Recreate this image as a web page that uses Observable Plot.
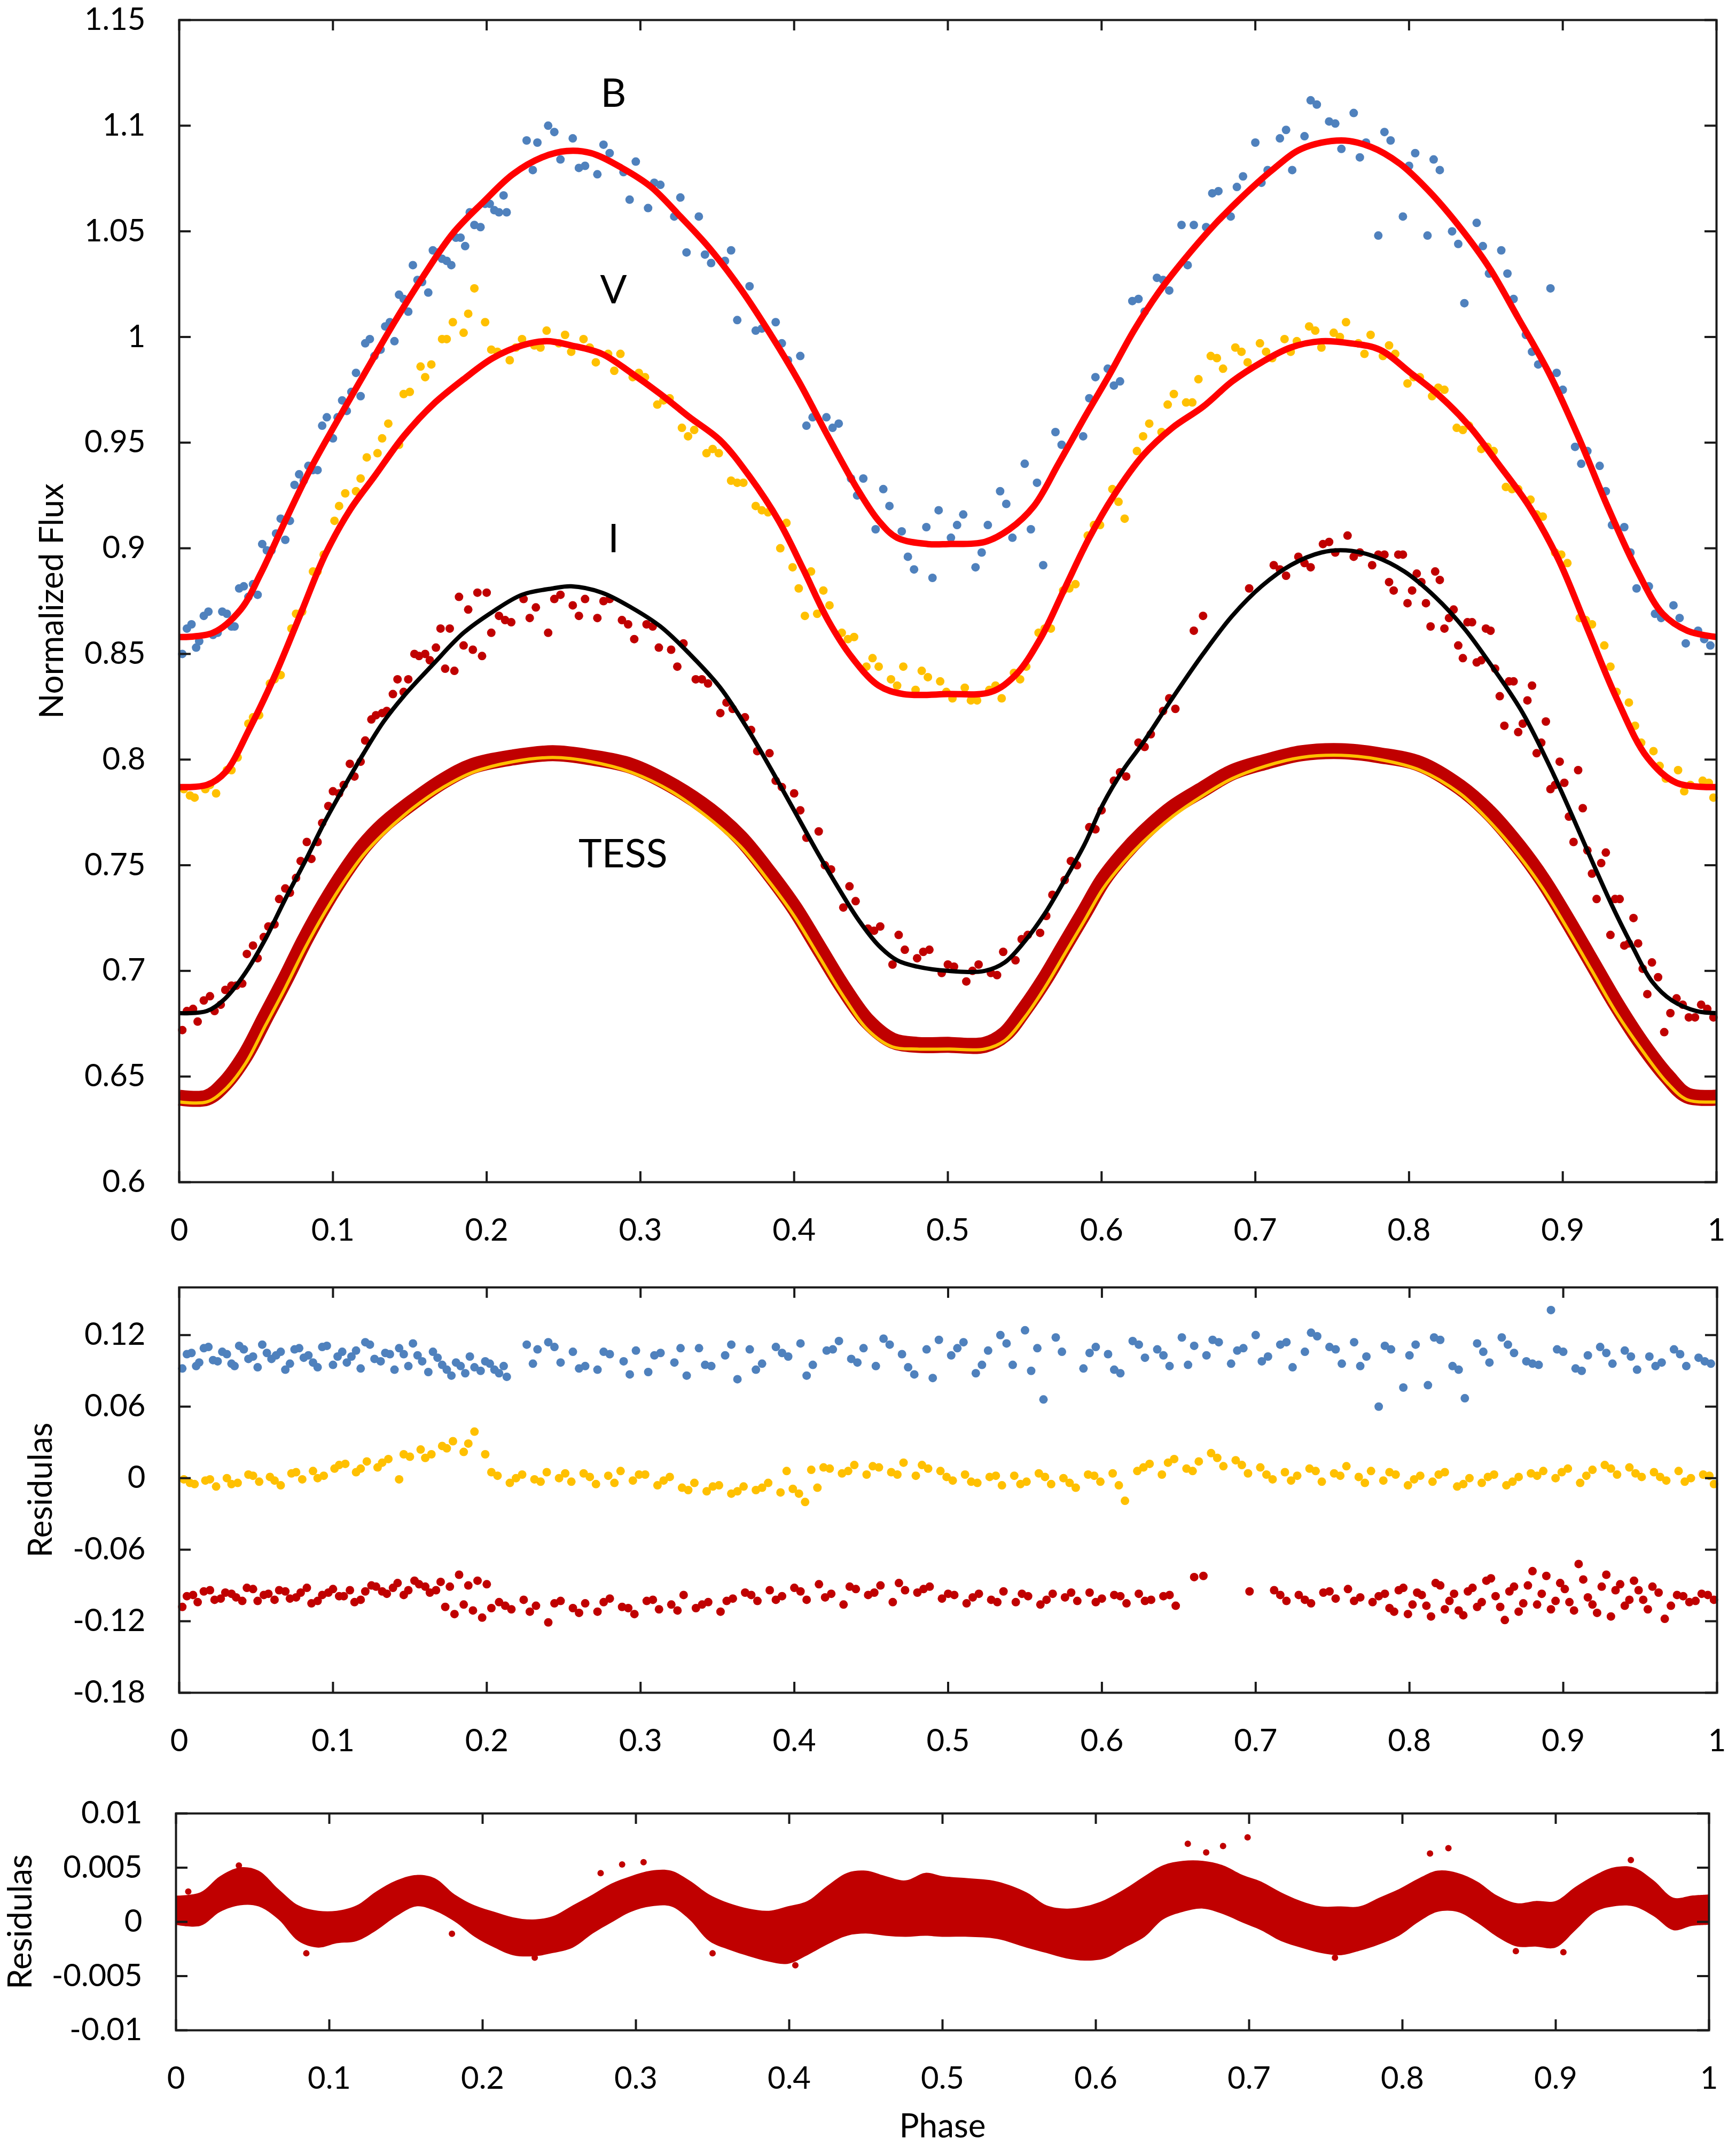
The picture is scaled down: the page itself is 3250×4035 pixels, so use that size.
<!DOCTYPE html>
<html>
<head>
<meta charset="utf-8">
<script src="https://cdn.jsdelivr.net/npm/d3@7"></script>
<script src="https://cdn.jsdelivr.net/npm/@observablehq/plot@0.6"></script>
<style>
  body { margin: 0; background: white; }
  #page { position: relative; width: 3250px; height: 4035px; background: white; }
  #page > div { position: absolute; left: 0; }
</style>
</head>
<body>
<div id="page">
  <div id="top" style="top:0px"></div>
  <div id="mid" style="top:2340px"></div>
  <div id="bot" style="top:3300px"></div>
</div>
<script>
// axis ticks
const xTicks = [0, 0.1, 0.2, 0.3, 0.4, 0.5, 0.6, 0.7, 0.8, 0.9, 1];
const fluxTicks = [0.6, 0.65, 0.7, 0.75, 0.8, 0.85, 0.9, 0.95, 1, 1.05, 1.1, 1.15];
const residTicks = [-0.18, -0.12, -0.06, 0, 0.06, 0.12];
const tessResidTicks = [-0.01, -0.005, 0, 0.005, 0.01];

// curve labels in the light curve panel
const seriesLabels = ["B", "V", "I", "TESS"];
const labelPhase = [0.2825, 0.2825, 0.2825, 0.2887];
const labelFlux = [1.115, 1.022, 0.904, 0.755];

// model curves [phase, flux]
const bModel = [[0,0.858],[0.022,0.860],[0.040,0.871],[0.053,0.888],[0.069,0.913],[0.085,0.937],[0.101,0.958],[0.120,0.982],[0.140,1.007],[0.159,1.029],[0.178,1.049],[0.198,1.064],[0.217,1.077],[0.236,1.085],[0.252,1.088],[0.268,1.087],[0.288,1.080],[0.307,1.071],[0.326,1.057],[0.345,1.042],[0.365,1.023],[0.384,1.002],[0.403,0.979],[0.422,0.953],[0.442,0.927],[0.455,0.913],[0.467,0.905],[0.487,0.902],[0.500,0.902],[0.524,0.903],[0.540,0.909],[0.556,0.920],[0.572,0.940],[0.589,0.962],[0.605,0.982],[0.621,1.003],[0.637,1.021],[0.653,1.036],[0.672,1.052],[0.691,1.066],[0.711,1.079],[0.730,1.089],[0.756,1.093],[0.775,1.090],[0.794,1.082],[0.813,1.069],[0.833,1.052],[0.852,1.033],[0.871,1.009],[0.891,0.983],[0.910,0.953],[0.929,0.920],[0.948,0.890],[0.965,0.869],[0.981,0.861],[1,0.858]];
const vModel = [[0,0.787],[0.018,0.788],[0.030,0.794],[0.046,0.815],[0.063,0.841],[0.079,0.869],[0.095,0.897],[0.111,0.918],[0.127,0.934],[0.146,0.953],[0.165,0.968],[0.185,0.980],[0.204,0.990],[0.223,0.996],[0.239,0.998],[0.255,0.996],[0.275,0.992],[0.294,0.983],[0.313,0.973],[0.332,0.962],[0.352,0.951],[0.371,0.934],[0.390,0.913],[0.406,0.890],[0.422,0.866],[0.438,0.848],[0.455,0.835],[0.471,0.831],[0.500,0.831],[0.528,0.832],[0.544,0.840],[0.560,0.857],[0.576,0.881],[0.592,0.905],[0.608,0.925],[0.627,0.944],[0.646,0.957],[0.666,0.967],[0.685,0.979],[0.704,0.988],[0.723,0.995],[0.743,0.998],[0.762,0.997],[0.781,0.994],[0.801,0.983],[0.820,0.972],[0.839,0.958],[0.858,0.940],[0.878,0.920],[0.897,0.895],[0.916,0.862],[0.935,0.829],[0.955,0.801],[0.974,0.789],[1,0.787]];
const iModel = [[0,0.680],[0.018,0.681],[0.030,0.687],[0.043,0.699],[0.056,0.715],[0.069,0.734],[0.082,0.752],[0.095,0.771],[0.108,0.788],[0.120,0.803],[0.133,0.818],[0.146,0.830],[0.165,0.845],[0.185,0.860],[0.204,0.870],[0.223,0.878],[0.243,0.881],[0.255,0.882],[0.275,0.879],[0.294,0.872],[0.313,0.863],[0.332,0.850],[0.352,0.834],[0.371,0.813],[0.390,0.789],[0.403,0.772],[0.416,0.755],[0.429,0.739],[0.442,0.724],[0.455,0.712],[0.467,0.705],[0.480,0.702],[0.500,0.700],[0.524,0.700],[0.537,0.704],[0.550,0.714],[0.563,0.727],[0.576,0.743],[0.589,0.760],[0.601,0.779],[0.614,0.795],[0.627,0.808],[0.646,0.829],[0.666,0.850],[0.685,0.868],[0.704,0.882],[0.723,0.892],[0.743,0.898],[0.759,0.899],[0.778,0.896],[0.797,0.889],[0.817,0.877],[0.836,0.862],[0.855,0.843],[0.874,0.822],[0.894,0.793],[0.907,0.772],[0.919,0.752],[0.932,0.731],[0.945,0.712],[0.958,0.695],[0.971,0.686],[0.987,0.681],[1,0.680]];
const tessModel = [[0,0.638],[0.018,0.638],[0.030,0.644],[0.043,0.656],[0.056,0.674],[0.069,0.692],[0.082,0.711],[0.095,0.728],[0.108,0.743],[0.120,0.755],[0.133,0.765],[0.152,0.777],[0.172,0.787],[0.191,0.794],[0.217,0.799],[0.243,0.801],[0.268,0.799],[0.294,0.794],[0.320,0.785],[0.345,0.772],[0.365,0.759],[0.384,0.742],[0.400,0.726],[0.416,0.707],[0.432,0.688],[0.448,0.672],[0.464,0.664],[0.480,0.663],[0.500,0.663],[0.524,0.663],[0.537,0.667],[0.550,0.678],[0.563,0.692],[0.576,0.708],[0.589,0.724],[0.601,0.739],[0.614,0.751],[0.627,0.761],[0.646,0.773],[0.666,0.783],[0.685,0.791],[0.707,0.797],[0.730,0.801],[0.756,0.802],[0.781,0.800],[0.807,0.795],[0.833,0.784],[0.852,0.771],[0.871,0.755],[0.887,0.739],[0.903,0.720],[0.919,0.700],[0.935,0.680],[0.952,0.662],[0.968,0.647],[0.981,0.639],[1,0.638]];

// centre of the dense TESS point band [phase, flux]
const tessBand = [[0,0.640],[0.018,0.640],[0.030,0.647],[0.043,0.660],[0.056,0.678],[0.069,0.696],[0.082,0.715],[0.095,0.732],[0.108,0.747],[0.120,0.759],[0.133,0.769],[0.152,0.780],[0.172,0.790],[0.191,0.797],[0.217,0.801],[0.243,0.803],[0.268,0.801],[0.294,0.797],[0.320,0.788],[0.345,0.776],[0.365,0.763],[0.384,0.746],[0.400,0.730],[0.416,0.711],[0.432,0.692],[0.448,0.676],[0.464,0.667],[0.480,0.665],[0.500,0.665],[0.524,0.665],[0.537,0.670],[0.550,0.682],[0.563,0.696],[0.576,0.712],[0.589,0.728],[0.601,0.743],[0.614,0.755],[0.627,0.765],[0.646,0.777],[0.666,0.786],[0.685,0.794],[0.707,0.799],[0.730,0.803],[0.756,0.804],[0.781,0.802],[0.807,0.798],[0.833,0.787],[0.852,0.775],[0.871,0.759],[0.887,0.743],[0.903,0.724],[0.919,0.704],[0.935,0.684],[0.952,0.665],[0.968,0.650],[0.981,0.641],[1,0.640]];

// observations [phase, flux, residual as plotted (B +0.1, V 0, I -0.1)]
const bObs = [[0.002,0.850,0.092],[0.008,0.864,0.105],[0.013,0.856,0.097],[0.019,0.870,0.110],[0.025,0.860,0.098],[0.031,0.869,0.104],[0.036,0.863,0.094],[0.042,0.882,0.108],[0.048,0.883,0.102],[0.054,0.902,0.112],[0.060,0.899,0.100],[0.066,0.914,0.106],[0.072,0.913,0.096],[0.078,0.935,0.109],[0.084,0.939,0.103],[0.090,0.937,0.093],[0.096,0.962,0.111],[0.103,0.962,0.102],[0.109,0.965,0.097],[0.115,0.983,0.107],[0.121,0.997,0.114],[0.127,0.991,0.100],[0.134,1.005,0.105],[0.140,0.998,0.091],[0.146,1.018,0.104],[0.152,1.034,0.113],[0.158,1.026,0.098],[0.165,1.041,0.106],[0.171,1.037,0.095],[0.177,1.034,0.086],[0.183,1.047,0.094],[0.189,1.059,0.102],[0.196,1.052,0.090],[0.202,1.063,0.096],[0.208,1.059,0.088],[0.213,1.059,0.085],
[0.005,0.862,0.104],[0.011,0.853,0.094],[0.016,0.868,0.109],[0.022,0.859,0.099],[0.028,0.870,0.106],[0.034,0.863,0.096],[0.039,0.881,0.111],[0.045,0.877,0.100],[0.051,0.878,0.093],[0.057,0.899,0.105],[0.063,0.907,0.103],[0.069,0.904,0.091],[0.075,0.930,0.108],[0.081,0.932,0.101],[0.087,0.937,0.097],[0.093,0.958,0.110],[0.100,0.952,0.095],[0.106,0.970,0.106],[0.112,0.974,0.102],[0.118,0.972,0.092],[0.124,0.999,0.112],[0.131,0.994,0.098],[0.137,1.007,0.104],[0.143,1.020,0.109],[0.149,1.012,0.094],[0.155,1.027,0.103],[0.162,1.021,0.089],[0.168,1.040,0.101],[0.174,1.036,0.091],[0.180,1.047,0.097],[0.186,1.043,0.088],[0.192,1.053,0.093],[0.199,1.063,0.098],[0.205,1.060,0.091],[0.211,1.067,0.094],
[0.226,1.093,0.112],[0.233,1.092,0.108],[0.240,1.100,0.114],[0.248,1.084,0.097],[0.256,1.094,0.106],[0.264,1.081,0.094],[0.272,1.077,0.091],[0.280,1.087,0.104],[0.289,1.078,0.098],[0.297,1.083,0.107],[0.305,1.061,0.089],[0.313,1.072,0.105],[0.322,1.057,0.097],[0.330,1.040,0.086],[0.338,1.057,0.109],[0.346,1.035,0.094],[0.355,1.036,0.103],[0.363,1.008,0.083],[0.371,1.024,0.108],[0.379,1.004,0.096],[0.388,1.007,0.110],[0.396,0.989,0.102],[0.404,0.991,0.113],[0.412,0.962,0.095],[0.421,0.962,0.107],[0.429,0.959,0.115],[0.437,0.933,0.100],[0.445,0.933,0.109],[0.453,0.909,0.094],[0.462,0.920,0.112],[0.470,0.908,0.104],[0.478,0.890,0.087],[0.486,0.910,0.108],[0.494,0.918,0.116],
[0.230,1.079,0.096],[0.244,1.097,0.110],[0.260,1.080,0.092],[0.276,1.091,0.106],[0.293,1.065,0.087],[0.309,1.073,0.103],[0.326,1.066,0.109],[0.342,1.039,0.095],[0.359,1.041,0.112],[0.375,1.003,0.091],[0.392,0.997,0.105],[0.408,0.958,0.086],[0.425,0.957,0.108],[0.441,0.925,0.097],[0.458,0.928,0.117],[0.474,0.896,0.093],[0.490,0.886,0.084],[0.506,0.911,0.109],[0.522,0.898,0.095],[0.538,0.921,0.113],[0.554,0.909,0.090],[0.570,0.955,0.118],
[0.502,0.905,0.103],[0.510,0.916,0.114],[0.518,0.891,0.088],[0.526,0.911,0.107],[0.534,0.927,0.120],[0.542,0.905,0.095],[0.550,0.940,0.124],[0.558,0.931,0.109],[0.562,0.892,0.066],[0.574,0.949,0.106],
[0.588,0.953,0.092],[0.596,0.981,0.110],[0.604,0.985,0.104],[0.612,0.979,0.088],[0.620,1.017,0.115],[0.628,1.012,0.101],[0.636,1.028,0.108],[0.644,1.022,0.094],[0.652,1.053,0.118],[0.660,1.053,0.111],[0.668,1.052,0.103],[0.676,1.069,0.114],[0.684,1.057,0.096],[0.692,1.076,0.109],[0.700,1.092,0.120],[0.708,1.079,0.102],[0.716,1.094,0.112],[0.724,1.079,0.093],[0.732,1.095,0.106],[0.740,1.110,0.119],[0.748,1.102,0.110],[0.756,1.089,0.096],[0.764,1.106,0.114],[0.772,1.092,0.102],[0.780,1.048,0.060],[0.788,1.093,0.108],[0.796,1.057,0.076],[0.804,1.087,0.112],[0.812,1.048,0.078],[0.820,1.079,0.116],[0.828,1.050,0.094],[0.836,1.016,0.067],[0.844,1.054,0.113],[0.852,1.030,0.097],[0.860,1.041,0.118],[0.868,1.018,0.105],[0.876,1.001,0.098],
[0.592,0.971,0.105],[0.608,0.977,0.091],[0.624,1.018,0.112],[0.640,1.027,0.103],[0.656,1.034,0.095],[0.672,1.068,0.116],[0.688,1.071,0.107],[0.704,1.073,0.098],[0.720,1.098,0.114],[0.736,1.112,0.122],[0.752,1.101,0.108],[0.768,1.085,0.094],[0.784,1.097,0.111],[0.800,1.081,0.103],[0.816,1.084,0.118],[0.832,1.044,0.091],[0.848,1.043,0.106],[0.864,1.030,0.112],[0.880,0.993,0.096],[0.896,0.983,0.108],[0.912,0.940,0.090],[0.928,0.927,0.105],[0.944,0.898,0.102],[0.960,0.869,0.094],[0.976,0.867,0.104],[0.992,0.857,0.098],
[0.884,0.987,0.095],[0.892,1.023,0.141],[0.900,0.975,0.106],[0.908,0.948,0.092],[0.916,0.946,0.103],[0.924,0.939,0.110],[0.932,0.911,0.096],[0.940,0.910,0.107],[0.948,0.881,0.091],[0.956,0.882,0.102],[0.964,0.867,0.097],[0.972,0.873,0.108],[0.980,0.855,0.094],[0.988,0.861,0.101],[0.996,0.854,0.096]];

const vObs = [[0.003,0.786,-0.001],[0.010,0.782,-0.005],[0.017,0.786,-0.002],[0.024,0.784,-0.007],[0.031,0.795,0.000],[0.038,0.801,-0.004],[0.045,0.817,0.003],[0.052,0.821,-0.003],[0.059,0.836,0.001],[0.066,0.840,-0.006],[0.073,0.862,0.004],[0.080,0.870,-0.001],[0.087,0.889,0.006],[0.094,0.897,0.002],[0.101,0.913,0.008],[0.108,0.926,0.012],[0.115,0.927,0.005],[0.122,0.943,0.014],[0.129,0.945,0.009],[0.136,0.959,0.016],[0.143,0.949,-0.001],[0.150,0.974,0.018],[0.157,0.986,0.024],[0.164,0.987,0.020],[0.171,0.999,0.027],[0.178,1.007,0.031],[0.185,1.002,0.022],[0.192,1.023,0.039],[0.199,1.007,0.020],
[0.207,0.993,0.002],[0.215,0.989,-0.004],[0.223,0.999,0.003],[0.231,0.996,-0.001],[0.239,1.003,0.005],[0.247,0.997,0.000],[0.255,0.993,-0.003],[0.263,0.999,0.004],[0.271,0.988,-0.005],[0.279,0.992,0.002],[0.287,0.992,0.006],[0.295,0.981,-0.002],[0.303,0.981,0.003],[0.311,0.968,-0.006],[0.319,0.971,0.001],[0.327,0.957,-0.008],[0.335,0.956,-0.004],[0.343,0.945,-0.011],[0.351,0.945,-0.006],[0.359,0.932,-0.013],[0.367,0.931,-0.007],[0.375,0.920,-0.010],[0.383,0.917,-0.004],[0.391,0.900,-0.012],[0.395,0.912,0.006],[0.399,0.891,-0.009],[0.407,0.868,-0.020],[0.411,0.889,0.007],[0.415,0.869,-0.008],
[0.423,0.873,0.008],[0.431,0.860,0.004],[0.439,0.858,0.011],[0.447,0.844,0.003],[0.455,0.844,0.009],[0.463,0.838,0.005],[0.471,0.844,0.013],[0.479,0.833,0.002],[0.487,0.839,0.008],[0.495,0.837,0.006],[0.503,0.829,-0.002],[0.511,0.834,0.003],[0.519,0.828,-0.004],[0.527,0.833,0.001],[0.535,0.829,-0.006],[0.543,0.841,0.002],[0.551,0.844,-0.003],[0.559,0.860,0.004],[0.567,0.862,-0.005],[0.575,0.880,0.000],[0.583,0.883,-0.008],[0.591,0.906,0.003],[0.599,0.911,-0.003],[0.607,0.928,0.004],[0.615,0.914,-0.019],
[0.623,0.946,0.006],[0.631,0.959,0.012],[0.639,0.955,0.003],[0.647,0.973,0.016],[0.655,0.969,0.008],[0.663,0.980,0.014],[0.671,0.991,0.021],[0.679,0.985,0.010],[0.687,0.995,0.015],[0.695,0.988,0.004],[0.703,0.997,0.009],[0.711,0.990,-0.001],[0.719,0.999,0.005],[0.727,0.998,0.002],[0.735,1.005,0.008],[0.743,0.995,-0.003],[0.751,1.002,0.004],[0.759,1.007,0.010],[0.767,0.997,0.001],[0.775,1.001,0.006],[0.783,0.991,-0.002],[0.791,0.992,0.003],[0.799,0.978,-0.006],[0.807,0.981,0.002],[0.815,0.972,-0.003],[0.823,0.975,0.005],[0.831,0.957,-0.007],[0.839,0.958,0.000],[0.847,0.947,-0.004],[0.855,0.946,0.003],[0.863,0.929,-0.006],[0.871,0.928,0.001],[0.879,0.923,0.004],
[0.887,0.915,0.006],[0.895,0.898,0.000],[0.903,0.893,0.008],[0.911,0.867,-0.004],[0.919,0.864,0.007],[0.927,0.854,0.011],[0.935,0.832,0.003],[0.943,0.827,0.009],[0.951,0.808,0.001],[0.959,0.804,0.005],[0.967,0.791,-0.002],[0.975,0.795,0.006],[0.983,0.788,0.000],[0.991,0.790,0.003],[0.998,0.782,-0.005],
[0.007,0.783,-0.004],[0.020,0.788,-0.001],[0.034,0.795,-0.005],[0.048,0.820,0.002],[0.062,0.838,-0.002],[0.076,0.869,0.005],[0.090,0.889,0.000],[0.104,0.920,0.011],[0.118,0.933,0.008],[0.132,0.952,0.013],[0.146,0.973,0.020],[0.160,0.981,0.017],[0.174,0.999,0.025],[0.188,1.011,0.029],[0.203,0.994,0.005],[0.219,0.995,0.000],[0.235,0.995,-0.003],[0.251,1.001,0.004],[0.267,0.995,0.001],[0.283,0.984,-0.004],[0.299,0.983,0.003],[0.315,0.970,-0.002],[0.331,0.953,-0.010],[0.347,0.947,-0.007],[0.363,0.931,-0.011],[0.379,0.918,-0.008],[0.403,0.881,-0.013],[0.419,0.880,0.009],[0.435,0.857,0.006],[0.451,0.848,0.010],[0.467,0.835,0.003],[0.483,0.842,0.011],[0.499,0.832,0.001],[0.515,0.828,-0.003],[0.531,0.835,0.002],[0.547,0.838,-0.005],[0.563,0.862,0.001],[0.579,0.881,-0.004],[0.595,0.911,0.002],[0.611,0.922,-0.006],[0.627,0.953,0.009],[0.643,0.968,0.013],[0.659,0.969,0.006],[0.675,0.990,0.017],[0.691,0.993,0.011],[0.707,0.993,0.003],[0.723,0.993,-0.002],[0.739,1.003,0.006],[0.755,1.000,0.002],[0.771,0.992,-0.004],[0.787,0.996,0.005],[0.803,0.981,-0.001],[0.819,0.976,0.003],[0.835,0.956,-0.005],[0.851,0.948,0.001],[0.867,0.928,-0.003],[0.883,0.916,0.002],[0.899,0.897,0.005],[0.915,0.866,0.002],[0.931,0.844,0.008],[0.947,0.816,0.004],[0.963,0.797,0.001],[0.979,0.785,-0.003],[0.995,0.789,0.002]];

const iObs = [[0.002,0.672,-0.108],[0.009,0.682,-0.098],[0.016,0.686,-0.095],[0.023,0.681,-0.102],[0.030,0.691,-0.096],[0.037,0.693,-0.100],[0.044,0.708,-0.092],[0.051,0.706,-0.103],[0.058,0.721,-0.097],[0.065,0.734,-0.094],[0.072,0.737,-0.101],[0.079,0.752,-0.096],[0.086,0.753,-0.105],[0.093,0.770,-0.098],[0.100,0.785,-0.093],[0.107,0.788,-0.099],[0.114,0.792,-0.104],[0.121,0.809,-0.095],[0.128,0.821,-0.091],[0.135,0.823,-0.097],[0.142,0.838,-0.088],[0.149,0.838,-0.094],[0.156,0.849,-0.089],[0.163,0.847,-0.096],[0.170,0.862,-0.087],[0.176,0.862,-0.091],[0.182,0.877,-0.081],[0.188,0.871,-0.090],[0.194,0.879,-0.086],[0.200,0.879,-0.089],
[0.005,0.681,-0.099],[0.012,0.676,-0.104],[0.020,0.688,-0.094],[0.027,0.684,-0.101],[0.034,0.693,-0.097],[0.041,0.694,-0.103],[0.048,0.712,-0.093],[0.055,0.716,-0.098],[0.062,0.722,-0.102],[0.069,0.739,-0.095],[0.076,0.744,-0.100],[0.083,0.761,-0.092],[0.090,0.761,-0.103],[0.097,0.778,-0.096],[0.104,0.784,-0.099],[0.111,0.798,-0.094],[0.118,0.799,-0.102],[0.125,0.819,-0.090],[0.132,0.822,-0.095],[0.139,0.831,-0.092],[0.146,0.832,-0.098],[0.153,0.850,-0.086],[0.160,0.850,-0.091],[0.167,0.853,-0.094],
[0.173,0.843,-0.108],[0.179,0.842,-0.114],[0.185,0.854,-0.106],[0.191,0.852,-0.111],[0.197,0.849,-0.117],[0.203,0.860,-0.109],
[0.208,0.868,-0.104],[0.216,0.865,-0.110],[0.224,0.876,-0.102],[0.232,0.872,-0.107],[0.240,0.860,-0.121],[0.248,0.878,-0.103],[0.256,0.873,-0.109],[0.264,0.876,-0.105],[0.272,0.867,-0.112],[0.280,0.876,-0.101],[0.288,0.866,-0.108],[0.296,0.857,-0.114],[0.304,0.864,-0.103],[0.312,0.853,-0.110],[0.320,0.852,-0.106],[0.328,0.855,-0.098],[0.336,0.838,-0.109],[0.344,0.836,-0.104],[0.352,0.822,-0.112],[0.360,0.824,-0.101],
[0.212,0.866,-0.107],[0.228,0.867,-0.112],[0.244,0.876,-0.105],[0.260,0.868,-0.113],[0.276,0.875,-0.104],[0.292,0.864,-0.109],[0.308,0.863,-0.102],[0.324,0.844,-0.111],[0.340,0.838,-0.106],[0.356,0.827,-0.103],[0.372,0.814,-0.098],[0.388,0.790,-0.102],[0.404,0.776,-0.095],[0.420,0.750,-0.100],[0.436,0.740,-0.091],[0.452,0.719,-0.096],[0.468,0.717,-0.088],[0.484,0.709,-0.093],[0.500,0.703,-0.097],[0.516,0.700,-0.100],[0.532,0.698,-0.104],[0.548,0.715,-0.097],[0.564,0.726,-0.102],[0.580,0.752,-0.096],[0.596,0.767,-0.104],[0.612,0.794,-0.099],[0.628,0.806,-0.103],[0.644,0.829,-0.098],
[0.368,0.820,-0.096],[0.376,0.804,-0.103],[0.384,0.803,-0.094],[0.392,0.787,-0.099],[0.400,0.784,-0.092],[0.408,0.763,-0.102],[0.416,0.766,-0.089],[0.424,0.748,-0.097],[0.432,0.730,-0.106],[0.440,0.733,-0.093],[0.448,0.720,-0.098],[0.456,0.721,-0.090],[0.464,0.703,-0.104],[0.472,0.710,-0.094],[0.480,0.706,-0.096],[0.488,0.710,-0.091],[0.496,0.699,-0.101],
[0.504,0.702,-0.098],[0.512,0.695,-0.105],[0.520,0.703,-0.097],[0.528,0.699,-0.102],[0.536,0.709,-0.095],[0.544,0.705,-0.104],[0.552,0.717,-0.099],[0.560,0.718,-0.106],[0.568,0.736,-0.097],[0.576,0.743,-0.100],[0.584,0.750,-0.103],[0.592,0.768,-0.096],[0.600,0.776,-0.101],[0.608,0.790,-0.098],[0.616,0.792,-0.105],[0.624,0.808,-0.097],[0.632,0.812,-0.102],[0.640,0.823,-0.099],[0.648,0.824,-0.107],[0.660,0.861,-0.083],[0.666,0.868,-0.082],[0.696,0.881,-0.095],
[0.712,0.892,-0.094],[0.720,0.887,-0.103],[0.728,0.896,-0.098],[0.736,0.891,-0.105],[0.744,0.902,-0.096],[0.752,0.898,-0.101],[0.760,0.906,-0.093],[0.768,0.898,-0.100],[0.776,0.892,-0.104],[0.784,0.897,-0.097],[0.790,0.880,-0.112],[0.796,0.897,-0.092],[0.802,0.880,-0.106],[0.808,0.884,-0.098],[0.814,0.863,-0.116],[0.820,0.885,-0.090],[0.826,0.867,-0.103],[0.832,0.854,-0.111],[0.838,0.865,-0.095],[0.844,0.846,-0.108],[0.850,0.862,-0.086],[0.856,0.843,-0.099],[0.862,0.816,-0.119],[0.868,0.837,-0.091],[0.874,0.817,-0.105],[0.880,0.835,-0.078],[0.886,0.808,-0.097],[0.892,0.786,-0.110],[0.898,0.799,-0.088],[0.904,0.773,-0.104],[0.910,0.795,-0.072],[0.916,0.757,-0.100],[0.922,0.734,-0.113],[0.928,0.756,-0.081],[0.934,0.734,-0.094],[0.940,0.712,-0.107],[0.946,0.725,-0.086],[0.952,0.701,-0.102],[0.958,0.704,-0.091],
[0.716,0.890,-0.098],[0.732,0.893,-0.102],[0.748,0.903,-0.095],[0.764,0.896,-0.103],[0.780,0.897,-0.099],[0.787,0.884,-0.109],[0.793,0.897,-0.094],[0.799,0.874,-0.114],[0.805,0.888,-0.096],[0.811,0.874,-0.107],[0.817,0.889,-0.088],[0.823,0.862,-0.110],[0.829,0.871,-0.097],[0.835,0.848,-0.115],[0.841,0.865,-0.092],[0.847,0.847,-0.104],[0.853,0.861,-0.084],[0.859,0.830,-0.108],[0.865,0.837,-0.095],[0.871,0.813,-0.112],[0.877,0.828,-0.090],[0.883,0.803,-0.106],[0.889,0.818,-0.082],[0.895,0.788,-0.103],[0.901,0.789,-0.093],[0.907,0.761,-0.111],[0.913,0.777,-0.085],[0.919,0.746,-0.106],[0.925,0.751,-0.091],[0.931,0.717,-0.116],[0.937,0.734,-0.089],[0.943,0.713,-0.102],[0.949,0.713,-0.094],[0.955,0.689,-0.110],[0.962,0.697,-0.096],[0.970,0.680,-0.107],[0.978,0.684,-0.099],[0.986,0.678,-0.103],[0.994,0.682,-0.098],
[0.966,0.671,-0.118],[0.974,0.687,-0.098],[0.982,0.678,-0.104],[0.990,0.684,-0.097],[0.998,0.678,-0.102]];

// TESS residual band [phase, upper, lower] and stray points [phase, residual]
const tessResidBand = [[0,0.0024,-0.0003],[0.016,0.0027,-0.0004],[0.029,0.0042,0.0009],[0.042,0.0050,0.0015],[0.054,0.0047,0.0014],[0.067,0.0030,0.0002],[0.080,0.0015,-0.0018],[0.093,0.0010,-0.0024],[0.105,0.0010,-0.0020],[0.118,0.0015,-0.0018],[0.131,0.0028,-0.0008],[0.144,0.0038,0.0005],[0.157,0.0043,0.0014],[0.169,0.0040,0.0010],[0.182,0.0025,0.0000],[0.195,0.0015,-0.0014],[0.208,0.0009,-0.0024],[0.220,0.0004,-0.0031],[0.233,0.0002,-0.0032],[0.246,0.0005,-0.0029],[0.259,0.0015,-0.0024],[0.272,0.0025,-0.0011],[0.284,0.0035,-0.0001],[0.297,0.0042,0.0009],[0.310,0.0047,0.0014],[0.323,0.0047,0.0014],[0.335,0.0038,0.0002],[0.348,0.0025,-0.0018],[0.361,0.0017,-0.0026],[0.374,0.0012,-0.0032],[0.387,0.0010,-0.0037],[0.399,0.0014,-0.0039],[0.412,0.0019,-0.0031],[0.425,0.0033,-0.0021],[0.438,0.0045,-0.0013],[0.450,0.0047,-0.0011],[0.463,0.0042,-0.0013],[0.476,0.0038,-0.0014],[0.489,0.0045,-0.0013],[0.500,0.0042,-0.0014],[0.517,0.0040,-0.0014],[0.536,0.0037,-0.0016],[0.555,0.0027,-0.0024],[0.568,0.0015,-0.0029],[0.581,0.0012,-0.0034],[0.593,0.0014,-0.0036],[0.606,0.0020,-0.0034],[0.619,0.0030,-0.0024],[0.632,0.0042,-0.0014],[0.644,0.0052,0.0002],[0.657,0.0056,0.0009],[0.670,0.0056,0.0012],[0.683,0.0052,0.0007],[0.696,0.0043,-0.0001],[0.708,0.0037,-0.0008],[0.721,0.0027,-0.0018],[0.734,0.0019,-0.0024],[0.747,0.0014,-0.0029],[0.760,0.0014,-0.0031],[0.772,0.0014,-0.0027],[0.785,0.0022,-0.0021],[0.798,0.0030,-0.0013],[0.811,0.0040,0.0000],[0.823,0.0047,0.0009],[0.836,0.0045,0.0009],[0.849,0.0037,-0.0001],[0.862,0.0024,-0.0014],[0.875,0.0017,-0.0023],[0.887,0.0019,-0.0023],[0.900,0.0019,-0.0024],[0.913,0.0032,-0.0008],[0.926,0.0043,0.0009],[0.938,0.0050,0.0014],[0.951,0.0050,0.0014],[0.964,0.0038,0.0005],[0.977,0.0022,-0.0008],[0.989,0.0024,-0.0004],[1,0.0025,-0.0003]];
const tessResidStray = [[0.008,0.0028],[0.041,0.0052],[0.085,-0.0029],[0.180,-0.0011],[0.234,-0.0033],[0.277,0.0045],[0.291,0.0053],[0.305,0.0055],[0.350,-0.0029],[0.404,-0.0040],[0.660,0.0072],[0.672,0.0064],[0.683,0.0070],[0.699,0.0078],[0.756,-0.0033],[0.818,0.0063],[0.830,0.0068],[0.874,-0.0027],[0.905,-0.0028],[0.949,0.0057]];

const blue = "#4F81BD", gold = "#FFC000", darkRed = "#C00000", red = "#FF0000", ink = "#1a1a1a";
const W = 3250;
const fmt = d => String(+d.toFixed(3));
const px = d => d[0];
const smooth = "catmull-rom";

function panel({height, top, bottom, left, right, yDomain, yTicks, marks}) {
  const fw = W - left - right, fh = height - top - bottom;
  return Plot.plot({
    width: W, height,
    marginTop: top, marginBottom: bottom, marginLeft: left, marginRight: right,
    style: {fontFamily: "Lato, 'Open Sans', sans-serif", fontSize: "58px", color: "black", background: "white", overflow: "visible"},
    x: {domain: [0, 1], ticks: xTicks, tickFormat: fmt, tickSize: 0, tickPadding: 68, label: null},
    y: {domain: yDomain, ticks: yTicks, tickFormat: fmt, tickSize: 0, tickPadding: 63, label: null},
    marks: [
      ...marks,
      Plot.frame({stroke: ink, strokeWidth: 4}),
      // inward ticks on all four sides
      Plot.tickX(xTicks, {x: d => d, stroke: ink, strokeWidth: 4, insetTop: fh - 20}),
      Plot.tickX(xTicks, {x: d => d, stroke: ink, strokeWidth: 4, insetBottom: fh - 20}),
      Plot.tickY(yTicks, {y: d => d, stroke: ink, strokeWidth: 4, insetRight: fw - 22}),
      Plot.tickY(yTicks, {y: d => d, stroke: ink, strokeWidth: 4, insetLeft: fw - 22})
    ]
  });
}

// light curves
const topChart = panel({
  height: 2340, top: 37, bottom: 127, left: 335, right: 37,
  yDomain: [0.6, 1.15], yTicks: fluxTicks,
  marks: [
    Plot.dot(bObs, {x: px, y: d => d[1], r: 8, fill: blue}),
    Plot.dot(vObs, {x: px, y: d => d[1], r: 8, fill: gold}),
    Plot.dot(iObs, {x: px, y: d => d[1], r: 8, fill: darkRed}),
    Plot.line(tessBand, {x: px, y: d => d[1], stroke: darkRed, strokeWidth: 30, strokeLinecap: "butt", curve: smooth}),
    Plot.line(tessModel, {x: px, y: d => d[1], stroke: gold, strokeWidth: 6, strokeLinecap: "butt", curve: smooth}),
    Plot.line(bModel, {x: px, y: d => d[1], stroke: red, strokeWidth: 12, strokeLinecap: "butt", curve: smooth}),
    Plot.line(vModel, {x: px, y: d => d[1], stroke: red, strokeWidth: 12, strokeLinecap: "butt", curve: smooth}),
    Plot.line(iModel, {x: px, y: d => d[1], stroke: "black", strokeWidth: 8, strokeLinecap: "butt", curve: smooth}),
    Plot.text(seriesLabels, {x: (d, i) => labelPhase[i], y: (d, i) => labelFlux[i], text: d => d, fontSize: 74, fill: "black"}),
    Plot.text(["Normalized Flux"], {frameAnchor: "left", dx: -237, rotate: -90, textAnchor: "middle", lineAnchor: "middle", fontSize: 62})
  ]
});
d3.select("#top").append(() => topChart);

// ground-based residuals
const midChart = panel({
  height: 960, top: 70, bottom: 131, left: 335, right: 36,
  yDomain: [-0.18, 0.16], yTicks: residTicks,
  marks: [
    Plot.dot(bObs, {x: px, y: d => d[2], r: 8, fill: blue}),
    Plot.dot(vObs, {x: px, y: d => d[2], r: 8, fill: gold}),
    Plot.dot(iObs, {x: px, y: d => d[2], r: 8, fill: darkRed}),
    Plot.text(["Residulas"], {frameAnchor: "left", dx: -258, rotate: -90, textAnchor: "middle", lineAnchor: "middle", fontSize: 62})
  ]
});
d3.select("#mid").append(() => midChart);

// TESS residuals
const botChart = panel({
  height: 735, top: 95, bottom: 234, left: 329, right: 51,
  yDomain: [-0.01, 0.01], yTicks: tessResidTicks,
  marks: [
    Plot.areaY(tessResidBand, {x: px, y1: d => d[2], y2: d => d[1], fill: darkRed, curve: smooth}),
    Plot.dot(tessResidStray, {x: px, y: d => d[1], r: 6, fill: darkRed}),
    Plot.text(["Residulas"], {frameAnchor: "left", dx: -290, rotate: -90, textAnchor: "middle", lineAnchor: "middle", fontSize: 62}),
    Plot.text(["Phase"], {frameAnchor: "bottom", dy: 181, textAnchor: "middle", lineAnchor: "middle", fontSize: 62})
  ]
});
d3.select("#bot").append(() => botChart);
</script>
</body>
</html>
